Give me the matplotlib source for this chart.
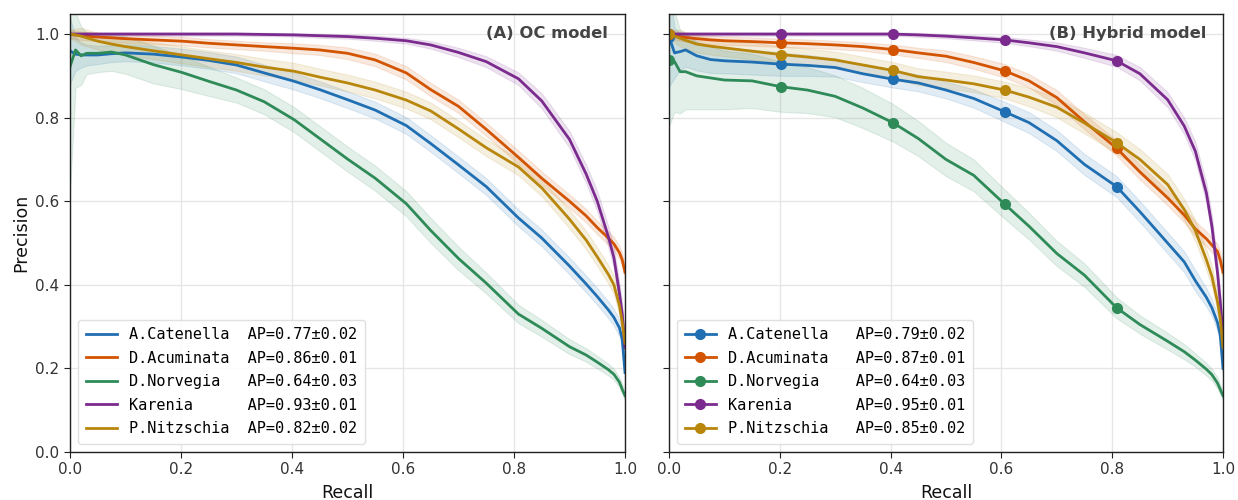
import numpy as np
import matplotlib
matplotlib.use("Agg")
import matplotlib.pyplot as plt

# ---------------- data ----------------
recall = [0, 0.01, 0.02, 0.03, 0.05, 0.075, 0.1, 0.15, 0.202, 0.25, 0.3, 0.35, 0.404, 0.45, 0.5,
          0.55, 0.606, 0.65, 0.7, 0.75, 0.808, 0.85, 0.9, 0.93, 0.95, 0.97, 0.98, 0.99, 0.995, 1.0]
marker_idx = [0, 8, 12, 16, 20]

species = ["A.Catenella", "D.Acuminata", "D.Norvegia", "Karenia", "P.Nitzschia"]
colors = ["#1f6fb2", "#d35400", "#2e8b57", "#7b2a8e", "#b8860b"]

ap_A = ["0.77±0.02", "0.86±0.01", "0.64±0.03", "0.93±0.01", "0.82±0.02"]
ap_B = ["0.79±0.02", "0.87±0.01", "0.64±0.03", "0.95±0.01", "0.85±0.02"]

# Panel A (OC model) mean precision
catenella_A = [0.96, 0.952, 0.95, 0.95, 0.95, 0.953, 0.955, 0.952, 0.945, 0.937, 0.926, 0.907, 0.887, 0.867, 0.843,
               0.818, 0.781, 0.738, 0.687, 0.635, 0.56, 0.512, 0.445, 0.402, 0.372, 0.34, 0.322, 0.297, 0.27, 0.19]
acuminata_A = [1.0, 0.998, 0.996, 0.995, 0.993, 0.991, 0.989, 0.986, 0.983, 0.978, 0.974, 0.970, 0.966, 0.962, 0.954,
               0.938, 0.907, 0.867, 0.827, 0.772, 0.705, 0.655, 0.60, 0.565, 0.537, 0.512, 0.498, 0.477, 0.46, 0.43]
norvegia_A = [0.922, 0.962, 0.948, 0.954, 0.954, 0.957, 0.950, 0.927, 0.908, 0.887, 0.866, 0.838, 0.795, 0.750, 0.701,
              0.655, 0.594, 0.53, 0.463, 0.404, 0.33, 0.296, 0.252, 0.232, 0.215, 0.197, 0.186, 0.167, 0.15, 0.135]
karenia_A = [1.0, 1.0, 1.0, 1.0, 1.0, 1.0, 1.0, 1.0, 1.0, 1.0, 1.0, 0.999, 0.998, 0.996, 0.994,
             0.990, 0.984, 0.974, 0.956, 0.934, 0.893, 0.840, 0.748, 0.665, 0.60, 0.515, 0.465, 0.38, 0.33, 0.25]
nitzschia_A = [1.0, 0.998, 0.995, 0.991, 0.983, 0.976, 0.970, 0.960, 0.950, 0.941, 0.932, 0.921, 0.911, 0.897, 0.883,
               0.866, 0.842, 0.816, 0.773, 0.728, 0.682, 0.632, 0.557, 0.507, 0.467, 0.425, 0.40, 0.35, 0.31, 0.26]

# Panel B (Hybrid model) mean precision
catenella_B = [0.994, 0.955, 0.958, 0.962, 0.948, 0.939, 0.936, 0.933, 0.928, 0.925, 0.92, 0.905, 0.892, 0.883, 0.866,
               0.846, 0.814, 0.788, 0.745, 0.688, 0.635, 0.575, 0.50, 0.455, 0.41, 0.37, 0.345, 0.31, 0.28, 0.20]
acuminata_B = [1.0, 0.997, 0.994, 0.992, 0.989, 0.986, 0.984, 0.982, 0.979, 0.977, 0.974, 0.970, 0.963, 0.955, 0.947,
               0.932, 0.912, 0.888, 0.848, 0.79, 0.727, 0.670, 0.608, 0.567, 0.534, 0.51, 0.495, 0.48, 0.46, 0.43]
norvegia_B = [0.939, 0.934, 0.91, 0.91, 0.90, 0.895, 0.89, 0.888, 0.874, 0.866, 0.851, 0.823, 0.788, 0.75, 0.70,
              0.662, 0.593, 0.54, 0.475, 0.423, 0.345, 0.305, 0.265, 0.24, 0.22, 0.198, 0.185, 0.165, 0.15, 0.135]
karenia_B = [1.0, 1.0, 1.0, 1.0, 1.0, 1.0, 1.0, 1.0, 1.0, 1.0, 1.0, 1.0, 1.0, 0.998, 0.995,
             0.991, 0.986, 0.979, 0.970, 0.955, 0.936, 0.905, 0.843, 0.78, 0.72, 0.62, 0.54, 0.43, 0.36, 0.28]
nitzschia_B = [1.0, 0.995, 0.99, 0.985, 0.976, 0.971, 0.967, 0.959, 0.951, 0.945, 0.938, 0.926, 0.913, 0.898, 0.89,
               0.881, 0.866, 0.849, 0.825, 0.787, 0.740, 0.700, 0.640, 0.58, 0.53, 0.46, 0.42, 0.36, 0.32, 0.25]

# standard deviation (shaded band half-width)
std_catenella_A = [0.08, 0.04, 0.03, 0.025, 0.022, 0.02, 0.02, 0.02, 0.02, 0.02, 0.02, 0.02, 0.02, 0.02, 0.02,
                   0.02, 0.02, 0.02, 0.02, 0.02, 0.02, 0.02, 0.02, 0.02, 0.02, 0.02, 0.02, 0.02, 0.02, 0.02]
std_acuminata_A = [0.01, 0.01, 0.01, 0.01, 0.01, 0.01, 0.01, 0.01, 0.01, 0.01, 0.01, 0.01, 0.012, 0.012, 0.014,
                   0.015, 0.016, 0.016, 0.016, 0.016, 0.016, 0.016, 0.016, 0.016, 0.016, 0.016, 0.016, 0.016, 0.016, 0.016]
std_norvegia_A = [0.30, 0.09, 0.07, 0.05, 0.045, 0.045, 0.045, 0.045, 0.04, 0.035, 0.03, 0.03, 0.03, 0.03, 0.03,
                  0.03, 0.03, 0.03, 0.028, 0.025, 0.022, 0.02, 0.018, 0.016, 0.015, 0.014, 0.013, 0.012, 0.012, 0.012]
std_karenia_A = [0.004, 0.004, 0.004, 0.004, 0.004, 0.004, 0.004, 0.004, 0.004, 0.004, 0.004, 0.004, 0.004, 0.005, 0.005,
                 0.006, 0.007, 0.009, 0.011, 0.013, 0.015, 0.018, 0.02, 0.022, 0.024, 0.025, 0.025, 0.025, 0.025, 0.025]
std_nitzschia_A = [0.01, 0.015, 0.02, 0.02, 0.02, 0.02, 0.02, 0.02, 0.02, 0.02, 0.02, 0.02, 0.02, 0.02, 0.02,
                   0.02, 0.02, 0.02, 0.02, 0.02, 0.02, 0.02, 0.022, 0.022, 0.022, 0.022, 0.022, 0.022, 0.022, 0.022]

std_catenella_B = [0.12, 0.06, 0.045, 0.04, 0.035, 0.032, 0.03, 0.03, 0.028, 0.025, 0.022, 0.02, 0.02, 0.02, 0.02,
                   0.022, 0.024, 0.025, 0.025, 0.025, 0.025, 0.025, 0.025, 0.025, 0.025, 0.022, 0.02, 0.02, 0.02, 0.02]
std_acuminata_B = [0.01, 0.01, 0.01, 0.01, 0.01, 0.01, 0.01, 0.01, 0.01, 0.01, 0.01, 0.01, 0.012, 0.012, 0.014,
                   0.015, 0.016, 0.016, 0.018, 0.018, 0.018, 0.018, 0.018, 0.018, 0.018, 0.018, 0.018, 0.018, 0.018, 0.018]
std_norvegia_B = [0.16, 0.12, 0.10, 0.09, 0.08, 0.075, 0.07, 0.065, 0.06, 0.055, 0.05, 0.048, 0.045, 0.042, 0.04,
                  0.038, 0.035, 0.032, 0.03, 0.028, 0.025, 0.022, 0.02, 0.018, 0.016, 0.015, 0.014, 0.013, 0.012, 0.012]
std_karenia_B = [0.004, 0.004, 0.004, 0.004, 0.004, 0.004, 0.004, 0.004, 0.004, 0.004, 0.004, 0.004, 0.004, 0.005, 0.005,
                 0.006, 0.007, 0.008, 0.01, 0.012, 0.014, 0.016, 0.018, 0.02, 0.022, 0.024, 0.025, 0.025, 0.025, 0.025]
std_nitzschia_B = [0.01, 0.015, 0.02, 0.02, 0.02, 0.02, 0.02, 0.02, 0.02, 0.02, 0.02, 0.02, 0.02, 0.02, 0.02,
                   0.02, 0.02, 0.022, 0.024, 0.025, 0.025, 0.025, 0.025, 0.025, 0.025, 0.025, 0.025, 0.025, 0.025, 0.025]

means_A = [catenella_A, acuminata_A, norvegia_A, karenia_A, nitzschia_A]
stds_A = [std_catenella_A, std_acuminata_A, std_norvegia_A, std_karenia_A, std_nitzschia_A]
means_B = [catenella_B, acuminata_B, norvegia_B, karenia_B, nitzschia_B]
stds_B = [std_catenella_B, std_acuminata_B, std_norvegia_B, std_karenia_B, std_nitzschia_B]

# ---------------- figure ----------------
plt.rcParams['font.family'] = ['DejaVu Sans']
fig = plt.figure(figsize=(12.38, 5.0), dpi=100)
axA = fig.add_axes([70 / 1238, 48 / 500, 555 / 1238, 438 / 500])
axB = fig.add_axes([669 / 1238, 48 / 500, 554 / 1238, 438 / 500], sharey=axA)

r = np.array(recall)

def draw(ax, means, stds, aps, title, markers, pad):
    for name, col, m, s, ap in zip(species, colors, means, stds, aps):
        m = np.array(m)
        s = np.array(s)
        ax.fill_between(r, m - s, m + s, color=col, alpha=0.13, linewidth=0.8, edgecolor=col)
        label = name.ljust(pad) + " AP=" + ap
        if markers:
            ax.plot(r, m, color=col, lw=2.0, marker='o', markersize=7, markevery=marker_idx, label=label)
        else:
            ax.plot(r, m, color=col, lw=2.0, label=label)
    ax.set_xlim(0, 1)
    ax.set_ylim(0, 1.048)
    ax.set_xticks([0, 0.2, 0.4, 0.6, 0.8, 1.0])
    ax.set_yticks([0, 0.2, 0.4, 0.6, 0.8, 1.0])
    ax.grid(True, color='#e6e6e6', lw=1.0)
    ax.set_axisbelow(True)
    for sp in ax.spines.values():
        sp.set_color('#222222')
        sp.set_linewidth(1.0)
    ax.tick_params(axis='both', labelsize=11, colors='#222222', length=4, labelcolor='#333333')
    ax.set_xlabel("Recall", fontsize=12.5, color='#111111', labelpad=5)
    ax.text(0.97, 0.955, title, transform=ax.transAxes, ha='right', va='center',
            fontsize=11.8, fontweight='bold', color='#444444')
    leg = ax.legend(loc='lower left', bbox_to_anchor=(0.0, 0.0), borderaxespad=0.55,
                    prop={'family': 'DejaVu Sans Mono', 'size': 11}, frameon=True,
                    handlelength=2.0, labelspacing=0.55, fancybox=True, borderpad=0.5)
    leg.get_frame().set_edgecolor('#dddddd')
    leg.get_frame().set_alpha(0.9)

draw(axA, means_A, stds_A, ap_A, "(A) OC model", False, 12)
draw(axB, means_B, stds_B, ap_B, "(B) Hybrid model", True, 13)
axA.set_ylabel("Precision", fontsize=12.5, color='#111111')
plt.setp(axB.get_yticklabels(), visible=False)

fig.savefig("out.png", dpi=100)
